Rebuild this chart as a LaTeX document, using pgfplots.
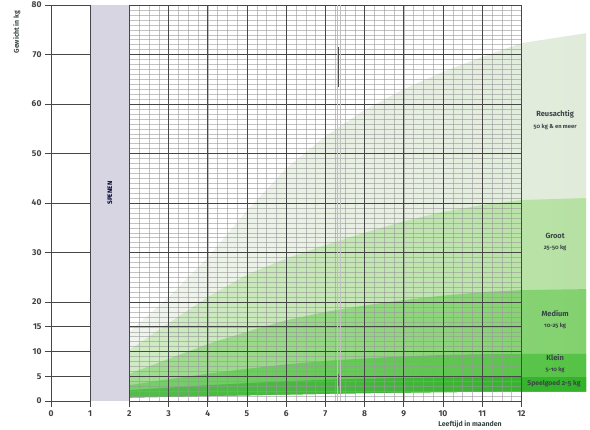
\documentclass[border=0pt]{standalone}
\usepackage{fontspec}
\setmainfont{Fira Sans}
\newfontfamily\osf{Fira Sans}[Numbers=OldStyle]
\usepackage{pgfplots}
\pgfplotsset{compat=1.18}

\definecolor{cR}{HTML}{E0EBDA}
\definecolor{cG}{HTML}{B6E1A3}
\definecolor{cM}{HTML}{82D16E}
\definecolor{cK}{HTML}{55C345}
\definecolor{cS}{HTML}{33B22A}
\definecolor{spenen}{HTML}{D7D5E1}
\definecolor{txt}{HTML}{3A4646}

\begin{document}
\begin{tikzpicture}[
  minorgrid/.style={draw=black!40, line width=0.35bp, opacity=0.6},
  majorgrid/.style={draw=black!72, line width=0.8bp},
]
\begin{axis}[
  x=39.2bp, y=4.95bp,
  xmin=0, xmax=13.75, ymin=0, ymax=80,
  axis line style={draw=none},
  clip=false,
  xtick={0,...,12}, ytick={0,5,10,15,20,30,40,50,60,70,80},
  xtick pos=left, ytick pos=left,
  tick align=outside, major tick length=6bp,
  tick style={draw=black!72, line width=0.8bp},
  ticklabel style={font=\bfseries\fontsize{8.5}{9}\selectfont, text=black!75},
  /pgf/number format/assume math mode=true,
]
\coordinate (origin) at (axis cs:0,0);

% weaning band
\fill[spenen] (axis cs:1,0) rectangle (axis cs:2,80);

% Reusachtig (top) down to base
\addplot[draw=none, left color=cR!50!white, right color=cR] coordinates {
 (2,14) (3,21) (4,29) (5,38.5) (6,47) (7,53.5) (8,58.8) (9,63) (10,66.5) (11,69.5) (12,72.3) (13.65,74.3)
 (13.65,1.9) (12,1.9) (10,1.8) (8,1.6) (6,1.3) (4,1.0) (2,0.7)};
% Groot
\addplot[draw=none, left color=cG!65!white, right color=cG] coordinates {
 (2,10.3) (3,15.7) (4,21) (5,25.5) (6,28.8) (7,31.5) (8,34) (9,36.3) (10,38.2) (11,39.6) (12,40.6) (13.65,41)
 (13.65,1.9) (12,1.9) (10,1.8) (8,1.6) (6,1.3) (4,1.0) (2,0.7)};
% Medium
\addplot[draw=none, left color=cM!75!white, right color=cM] coordinates {
 (2,5.5) (3,8.5) (4,11.5) (5,14) (6,16.3) (7,18) (8,19.3) (9,20.4) (10,21.3) (11,22) (12,22.4) (13.65,22.6)
 (13.65,1.9) (12,1.9) (10,1.8) (8,1.6) (6,1.3) (4,1.0) (2,0.7)};
% Klein
\addplot[draw=none, left color=cK!80!white, right color=cK] coordinates {
 (2,3.2) (3,4.4) (4,5.5) (5,6.5) (6,7.4) (7,8.1) (8,8.6) (9,9) (10,9.3) (11,9.45) (12,9.5) (13.65,9.5)
 (13.65,1.9) (12,1.9) (10,1.8) (8,1.6) (6,1.3) (4,1.0) (2,0.7)};
% Speelgoed
\addplot[draw=none, left color=cS!85!white, right color=cS] coordinates {
 (2,2.2) (3,2.7) (4,3.2) (5,3.6) (6,4) (7,4.3) (8,4.5) (9,4.65) (10,4.75) (11,4.8) (12,4.8) (13.65,4.8)
 (13.65,1.9) (12,1.9) (10,1.8) (8,1.6) (6,1.3) (4,1.0) (2,0.7)};

% fine grid, 2 to 12 months
\pgfplotsinvokeforeach{1,...,79}{\draw[minorgrid] (axis cs:2,#1) -- (axis cs:12,#1);}
\pgfplotsinvokeforeach{2.25,2.5,...,11.75}{\draw[minorgrid] (axis cs:#1,0) -- (axis cs:#1,80);}
\pgfplotsinvokeforeach{0,5,10,15,20,30,40,50,60,70,80}{
  \draw[majorgrid] (axis cs:2,#1) -- (axis cs:12,#1);
  \draw[majorgrid] (axis cs:0,#1) -- (axis cs:1,#1);}
\pgfplotsinvokeforeach{0,1,...,12}{\draw[majorgrid] (axis cs:#1,0) -- (axis cs:#1,80);}

% fold line in the paper
\draw[black!25, line width=0.4bp] (axis cs:7.29,0) -- (axis cs:7.29,80);
\draw[black!25, line width=0.4bp] (axis cs:7.37,0) -- (axis cs:7.37,80);
\draw[black!70, line width=1bp] (axis cs:7.33,63.5) -- (axis cs:7.33,71.5);
\draw[black!60, line width=0.8bp] (axis cs:7.33,3) -- (axis cs:7.33,5.5);

% texts
\node[rotate=90, font=\bfseries\fontsize{6.5}{7}\selectfont, text=black!80!blue] at (axis cs:1.5,42) {SPENEN};
\node[rotate=90, font=\bfseries\fontsize{7}{8}\selectfont, text=txt] at (axis cs:-0.87,74.5) {Gewicht in kg};
\node[font=\bfseries\fontsize{7}{8}\selectfont, text=txt] at (axis cs:10.69,-4.65) {Leeftijd in maanden};

\node[font=\bfseries\fontsize{7.5}{8}\selectfont, text=txt] at (axis cs:12.86,58) {Reusachtig};
\node[font=\osf\bfseries\fontsize{5.8}{6}\selectfont, text=txt] at (axis cs:12.86,55.4) {50 kg \& en meer};
\node[font=\bfseries\fontsize{7.5}{8}\selectfont, text=txt] at (axis cs:12.86,33.3) {Groot};
\node[font=\osf\bfseries\fontsize{5.8}{6}\selectfont, text=txt] at (axis cs:12.86,30.9) {25-50 kg};
\node[font=\bfseries\fontsize{7.5}{8}\selectfont, text=txt] at (axis cs:12.86,17.6) {Medium};
\node[font=\osf\bfseries\fontsize{5.8}{6}\selectfont, text=txt] at (axis cs:12.86,15.2) {10-25 kg};
\node[font=\bfseries\fontsize{7.5}{8}\selectfont, text=txt] at (axis cs:12.86,8.7) {Klein};
\node[font=\osf\bfseries\fontsize{5.8}{6}\selectfont, text=txt] at (axis cs:12.86,6.3) {5-10 kg};
\node[font=\osf\bfseries\fontsize{6.8}{7}\selectfont, text=txt] at (axis cs:12.83,3.4) {Speelgoed 2-5 kg};
\end{axis}
\pgfresetboundingbox
\path ([shift={(-51bp,-29bp)}]origin) rectangle ([shift={(539bp,401bp)}]origin);
\end{tikzpicture}
\end{document}
